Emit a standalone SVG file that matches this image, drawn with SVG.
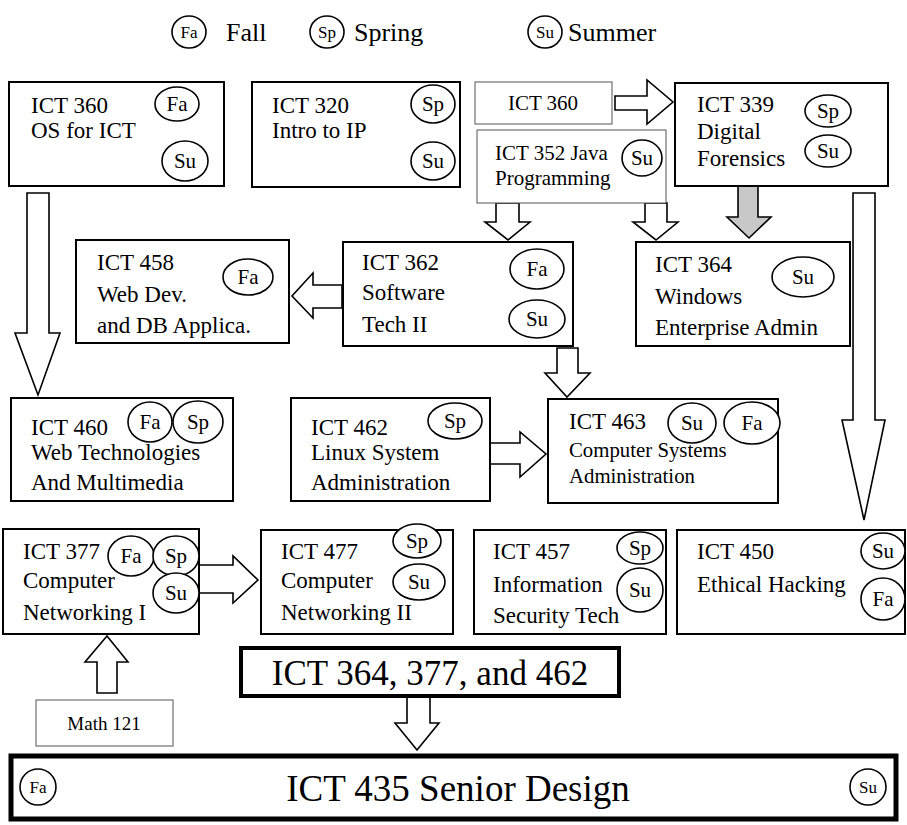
<svg xmlns="http://www.w3.org/2000/svg" width="907" height="825" viewBox="0 0 907 825" font-family="Liberation Serif, serif">
<style>
text{font-family:"Liberation Serif","Times New Roman",serif;fill:#000;font-size:20px}
.box{fill:#fff;stroke:#000;stroke-width:2}
.thin{fill:#fff;stroke:#555;stroke-width:1}
.thick{fill:#fff;stroke:#000;stroke-width:5}
.c{fill:#fff;stroke:#000;stroke-width:1.6}
.m{text-anchor:middle}
.t{font-size:23px}
.ct{font-size:21px;text-anchor:middle}
.lg{font-size:17px;text-anchor:middle}
.arr{fill:#fff;stroke:#000;stroke-width:1.6;stroke-linejoin:miter}
.garr{fill:#c8c8c8;stroke:#000;stroke-width:1.6}
</style>

<g id="legend">
<ellipse class="c" cx="189" cy="32" rx="17" ry="16"/><text class="lg" x="189" y="38">Fa</text>
<text x="226" y="41" style="font-size:26px">Fall</text>
<ellipse class="c" cx="327" cy="32" rx="17" ry="16"/><text class="lg" x="327" y="38">Sp</text>
<text x="354" y="41" style="font-size:26px">Spring</text>
<ellipse class="c" cx="545" cy="32" rx="17" ry="16"/><text class="lg" x="545" y="38">Su</text>
<text x="568" y="41" style="font-size:26px">Summer</text>
</g>

<g id="connectors">
<polygon class="arr" points="615,96 647,96 647,80 673,102 647,124 647,110 615,110"/>
<polygon class="arr" points="496,203 519,203 519,222 530,222 508,240 485,222 496,222"/>
<polygon class="arr" points="645,203 667,203 667,222 678,222 656,240 633,222 645,222"/>
<polygon class="garr" points="738,186 758,186 758,217 771,217 749,238 727,217 738,217"/>
<polygon class="arr" points="853,193 875,193 875,420 885,420 864,520 842,420 853,420"/>
<polygon class="arr" points="27,193 49,193 49,333 60,333 38,395 15,333 27,333"/>
<polygon class="arr" points="342,285 342,308 313,308 313,318 292,296 313,273 313,285"/>
<polygon class="arr" points="557,348 578,348 578,373 590,373 567,397 545,373 557,373"/>
<polygon class="arr" points="490,443 520,443 520,432 546,454 520,477 520,464 490,464"/>
<polygon class="arr" points="199,565 233,565 233,556 258,580 233,603 233,593 199,593"/>
<polygon class="arr" points="97,693 97,662 85,662 107,636 128,662 117,662 117,693"/>
<polygon class="arr" points="407,697 430,697 430,723 439,723 417,750 395,723 407,723"/>
</g>

<g id="ict360">
<rect class="box" x="9" y="82" width="215" height="104"/>
<text class="t" x="31" y="113">ICT 360</text><text class="t" x="31" y="138">OS for ICT</text>
<ellipse class="c" cx="177" cy="104" rx="22" ry="17"/><text class="ct" x="177" y="111">Fa</text>
<ellipse class="c" cx="185" cy="161" rx="23" ry="20"/><text class="ct" x="185" y="168">Su</text>
</g>

<g id="ict320">
<rect class="box" x="252" y="82" width="208" height="105"/>
<text class="t" x="272" y="113">ICT 320</text><text class="t" x="272" y="138">Intro to IP</text>
<ellipse class="c" cx="433" cy="104" rx="22" ry="19"/><text class="ct" x="433" y="111">Sp</text>
<ellipse class="c" cx="433" cy="161" rx="22" ry="19"/><text class="ct" x="433" y="168">Su</text>
</g>

<g id="ict360b">
<rect class="thin" x="475" y="82" width="137" height="42"/>
<text class="m" x="543" y="110" style="font-size:21px">ICT 360</text>
</g>

<g id="ict352">
<rect class="thin" x="477" y="130" width="189" height="73"/>
<text x="495" y="160" style="font-size:21px">ICT 352 Java</text><text x="495" y="185" style="font-size:21px">Programming</text>
<ellipse class="c" cx="642" cy="158" rx="20" ry="18"/><text class="ct" x="642" y="165">Su</text>
</g>

<g id="ict339">
<rect class="box" x="675" y="83" width="213" height="103"/>
<text class="t" x="697" y="112">ICT 339</text><text class="t" x="697" y="139">Digital</text><text class="t" x="697" y="166">Forensics</text>
<ellipse class="c" cx="828" cy="111" rx="23" ry="16"/><text class="ct" x="828" y="118">Sp</text>
<ellipse class="c" cx="828" cy="151" rx="23" ry="16"/><text class="ct" x="828" y="158">Su</text>
</g>

<g id="ict458">
<rect class="box" x="76" y="240" width="213" height="103"/>
<text class="t" x="97" y="270">ICT 458</text><text class="t" x="97" y="302">Web Dev.</text><text class="t" x="97" y="333">and DB Applica.</text>
<ellipse class="c" cx="248" cy="277" rx="25" ry="18"/><text class="ct" x="248" y="284">Fa</text>
</g>

<g id="ict362">
<rect class="box" x="343" y="242" width="230" height="104"/>
<text class="t" x="362" y="270">ICT 362</text><text class="t" x="362" y="300">Software</text><text class="t" x="362" y="332">Tech II</text>
<ellipse class="c" cx="537" cy="269" rx="27" ry="20"/><text class="ct" x="537" y="276">Fa</text>
<ellipse class="c" cx="537" cy="319" rx="28" ry="19"/><text class="ct" x="537" y="326">Su</text>
</g>

<g id="ict364">
<rect class="box" x="636" y="242" width="214" height="104"/>
<text class="t" x="655" y="272">ICT 364</text><text class="t" x="655" y="304">Windows</text><text class="t" x="655" y="335">Enterprise Admin</text>
<ellipse class="c" cx="803" cy="277" rx="31" ry="20"/><text class="ct" x="803" y="284">Su</text>
</g>

<g id="ict460">
<rect class="box" x="11" y="398" width="222" height="103"/>
<text class="t" x="31" y="435">ICT 460</text><text class="t" x="31" y="460">Web Technologies</text><text class="t" x="31" y="490">And Multimedia</text>
<ellipse class="c" cx="150" cy="422" rx="22" ry="20"/><text class="ct" x="150" y="429">Fa</text>
<ellipse class="c" cx="198" cy="422" rx="25" ry="21"/><text class="ct" x="198" y="429">Sp</text>
</g>

<g id="ict462">
<rect class="box" x="291" y="398" width="199" height="103"/>
<text class="t" x="311" y="435">ICT 462</text><text class="t" x="311" y="460">Linux System</text><text class="t" x="311" y="490">Administration</text>
<ellipse class="c" cx="455" cy="421" rx="27" ry="18"/><text class="ct" x="455" y="428">Sp</text>
</g>

<g id="ict463">
<rect class="box" x="548" y="399" width="230" height="104"/>
<text class="t" x="569" y="429">ICT 463</text><text x="569" y="457" style="font-size:20.8px">Computer Systems</text><text x="569" y="483" style="font-size:20.8px">Administration</text>
<ellipse class="c" cx="692" cy="423" rx="24" ry="20"/><text class="ct" x="692" y="430">Su</text>
<ellipse class="c" cx="752" cy="423" rx="28" ry="21"/><text class="ct" x="752" y="430">Fa</text>
</g>

<g id="ict377">
<rect class="box" x="3" y="529" width="196" height="105"/>
<text class="t" x="23" y="559">ICT 377</text><text class="t" x="23" y="588">Computer</text><text class="t" x="23" y="620">Networking I</text>
<ellipse class="c" cx="131" cy="556" rx="23" ry="20"/><text class="ct" x="131" y="563">Fa</text>
<ellipse class="c" cx="176" cy="556" rx="23" ry="20"/><text class="ct" x="176" y="563">Sp</text>
<ellipse class="c" cx="176" cy="593" rx="23" ry="20"/><text class="ct" x="176" y="600">Su</text>
</g>

<g id="ict477">
<rect class="box" x="261" y="530" width="192" height="104"/>
<text class="t" x="281" y="559">ICT 477</text><text class="t" x="281" y="588">Computer</text><text class="t" x="281" y="620">Networking II</text>
<ellipse class="c" cx="417" cy="541" rx="24" ry="17"/><text class="ct" x="417" y="548">Sp</text>
<ellipse class="c" cx="419" cy="582" rx="26" ry="18"/><text class="ct" x="419" y="589">Su</text>
</g>

<g id="ict457">
<rect class="box" x="474" y="530" width="192" height="104"/>
<text class="t" x="493" y="559">ICT 457</text><text class="t" x="493" y="592">Information</text><text class="t" x="493" y="623">Security Tech</text>
<ellipse class="c" cx="640" cy="548" rx="23" ry="16"/><text class="ct" x="640" y="555">Sp</text>
<ellipse class="c" cx="640" cy="590" rx="23" ry="22"/><text class="ct" x="640" y="597">Su</text>
</g>

<g id="ict450">
<rect class="box" x="677" y="530" width="228" height="104"/>
<text class="t" x="697" y="559">ICT 450</text><text class="t" x="697" y="592">Ethical Hacking</text>
<ellipse class="c" cx="883" cy="551" rx="22" ry="18"/><text class="ct" x="883" y="558">Su</text>
<ellipse class="c" cx="883" cy="599" rx="22" ry="21"/><text class="ct" x="883" y="606">Fa</text>
</g>

<g id="math121">
<rect class="thin" x="36" y="700" width="137" height="46"/>
<text class="m" x="104" y="730" style="font-size:19px">Math 121</text>
</g>

<g id="prereq">
<rect x="241" y="648" width="378" height="48" fill="#fff" stroke="#000" stroke-width="4"/>
<text class="m" x="430" y="685" style="font-size:35px">ICT 364, 377, and 462</text>
</g>

<g id="ict435">
<rect class="thick" x="11" y="756" width="885" height="63"/>
<text class="m" x="458" y="801" style="font-size:37px">ICT 435 Senior Design</text>
<ellipse class="c" cx="38" cy="787" rx="18" ry="18"/><text class="lg" x="38" y="793">Fa</text>
<ellipse class="c" cx="868" cy="787" rx="18" ry="18"/><text class="lg" x="868" y="793">Su</text>
</g>
</svg>
